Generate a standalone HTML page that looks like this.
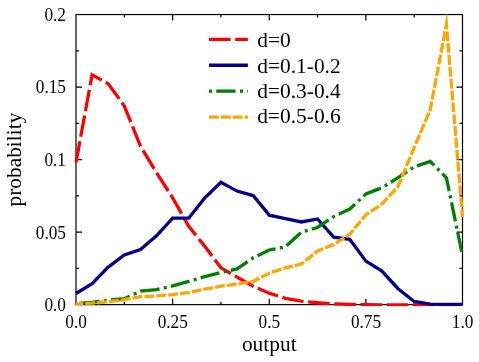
<!DOCTYPE html>
<html><head><meta charset="utf-8"><title>chart</title>
<style>html,body{margin:0;padding:0;background:#fff;}body{width:479px;height:362px;overflow:hidden;}svg{display:block;will-change:transform;}text{font-family:"Liberation Serif",serif;fill:#000;}</style></head><body>
<svg width="479" height="362" viewBox="0 0 479 362">
<rect x="0" y="0" width="479" height="362" fill="#ffffff"/>
<defs><clipPath id="c"><rect x="74.30" y="13.95" width="389.90" height="292.40"/></clipPath></defs>
<g stroke="#000" stroke-width="1.20" fill="none" stroke-linecap="butt">
<rect x="76.00" y="14.55" width="386.50" height="290.10"/>
<path d="M124.31,304.65 v-3.00 M124.31,14.55 v3.00 M172.62,304.65 v-6.00 M172.62,14.55 v6.00 M220.94,304.65 v-3.00 M220.94,14.55 v3.00 M269.25,304.65 v-6.00 M269.25,14.55 v6.00 M317.56,304.65 v-3.00 M317.56,14.55 v3.00 M365.88,304.65 v-6.00 M365.88,14.55 v6.00 M414.19,304.65 v-3.00 M414.19,14.55 v3.00 M76.00,268.39 h3.00 M462.50,268.39 h-3.00 M76.00,232.12 h6.00 M462.50,232.12 h-6.00 M76.00,195.86 h3.00 M462.50,195.86 h-3.00 M76.00,159.60 h6.00 M462.50,159.60 h-6.00 M76.00,123.34 h3.00 M462.50,123.34 h-3.00 M76.00,87.07 h6.00 M462.50,87.07 h-6.00 M76.00,50.81 h3.00 M462.50,50.81 h-3.00"/>
</g>
<g fill="none" stroke-width="3.30" stroke-linejoin="miter" stroke-miterlimit="10" stroke-linecap="butt" clip-path="url(#c)">
<path d="M76.00,162.50 L92.10,74.75 L108.21,83.74 L124.31,105.93 L140.42,146.11 L156.52,172.65 L172.62,197.75 L188.73,226.32 L204.83,246.34 L220.94,267.81 L237.04,277.09 L253.15,286.23 L269.25,293.19 L285.35,298.27 L301.46,301.17 L317.56,302.76 L333.67,303.92 L349.77,304.36 L365.88,304.65 L381.98,304.80 L398.08,304.94 L414.19,304.94 L430.29,304.94 L446.40,304.94 L462.50,304.94" stroke="#ff0000" stroke-dasharray="21.6 4.6" stroke-dashoffset="0"/>
<path d="M76.00,293.48 L92.10,283.76 L108.21,267.08 L124.31,255.04 L140.42,249.53 L156.52,235.75 L172.62,218.20 L188.73,218.20 L204.83,197.75 L220.94,182.37 L237.04,191.08 L253.15,195.57 L269.25,215.15 L285.35,218.64 L301.46,221.97 L317.56,218.93 L333.67,237.20 L349.77,239.38 L365.88,261.13 L381.98,271.14 L398.08,288.69 L414.19,301.46 L430.29,304.07 L446.40,304.36 L462.50,304.36" stroke="#00008b"/>
<path d="M76.00,303.49 L92.10,302.47 L108.21,300.15 L124.31,298.70 L140.42,291.16 L156.52,289.56 L172.62,285.94 L188.73,281.30 L204.83,276.66 L220.94,272.45 L237.04,268.97 L253.15,257.80 L269.25,249.97 L285.35,246.92 L301.46,232.12 L317.56,227.48 L333.67,216.60 L349.77,209.06 L365.88,193.98 L381.98,187.74 L398.08,177.73 L414.19,166.85 L430.29,161.49 L446.40,177.73 L462.50,255.62" stroke="#008000" stroke-dasharray="3.0 4.2 19.4 4.4" stroke-dashoffset="3.0"/>
<path d="M76.00,303.78 L92.10,303.20 L108.21,301.75 L124.31,299.57 L140.42,296.67 L156.52,295.95 L172.62,294.64 L188.73,292.61 L204.83,289.13 L220.94,286.23 L237.04,284.05 L253.15,281.30 L269.25,273.17 L285.35,267.81 L301.46,264.04 L317.56,250.98 L333.67,244.45 L349.77,234.30 L365.88,214.72 L381.98,203.99 L398.08,186.43 L414.19,147.56 L430.29,109.56 L446.40,24.41 L462.50,216.89" stroke="#ffa500" stroke-dasharray="9.8 2.1" stroke-dashoffset="2.5"/>
</g>
<g font-size="17.25">
<text transform="translate(76.10,327.85) scale(1,1.060)" text-anchor="middle">0.0</text>
<text transform="translate(172.72,327.85) scale(1,1.060)" text-anchor="middle">0.25</text>
<text transform="translate(269.35,327.85) scale(1,1.060)" text-anchor="middle">0.5</text>
<text transform="translate(365.98,327.85) scale(1,1.060)" text-anchor="middle">0.75</text>
<text transform="translate(462.60,327.85) scale(1,1.060)" text-anchor="middle">1.0</text>
<text transform="translate(65.95,311.05) scale(1,1.060)" text-anchor="end">0.0</text>
<text transform="translate(65.95,238.53) scale(1,1.060)" text-anchor="end">0.05</text>
<text transform="translate(65.95,166.00) scale(1,1.060)" text-anchor="end">0.1</text>
<text transform="translate(65.95,93.47) scale(1,1.060)" text-anchor="end">0.15</text>
<text transform="translate(65.95,20.95) scale(1,1.060)" text-anchor="end">0.2</text>
</g>
<g font-size="21.40">
<text x="269.25" y="351.00" text-anchor="middle">output</text>
<text transform="translate(21.30,159.60) rotate(-90)" text-anchor="middle">probability</text>
<text x="257.30" y="47.40" font-size="21.40">d=0</text>
<text x="257.30" y="72.55" font-size="21.40">d=0.1-0.2</text>
<text x="257.30" y="97.70" font-size="21.40">d=0.3-0.4</text>
<text x="257.30" y="122.85" font-size="21.40">d=0.5-0.6</text>
</g>
<g fill="none" stroke-width="3.30" stroke-linecap="butt">
<path d="M209.0,39.35 H247.9" stroke="#ff0000" stroke-dasharray="21.6 4.6"/>
<path d="M209.0,65.25 H247.9" stroke="#00008b"/>
<path d="M209.0,91.15 H247.9" stroke="#008000" stroke-dasharray="3.0 4.2 19.4 4.4"/>
<path d="M209.0,117.05 H247.9" stroke="#ffa500" stroke-dasharray="9.8 2.1"/>
</g>
</svg></body></html>
